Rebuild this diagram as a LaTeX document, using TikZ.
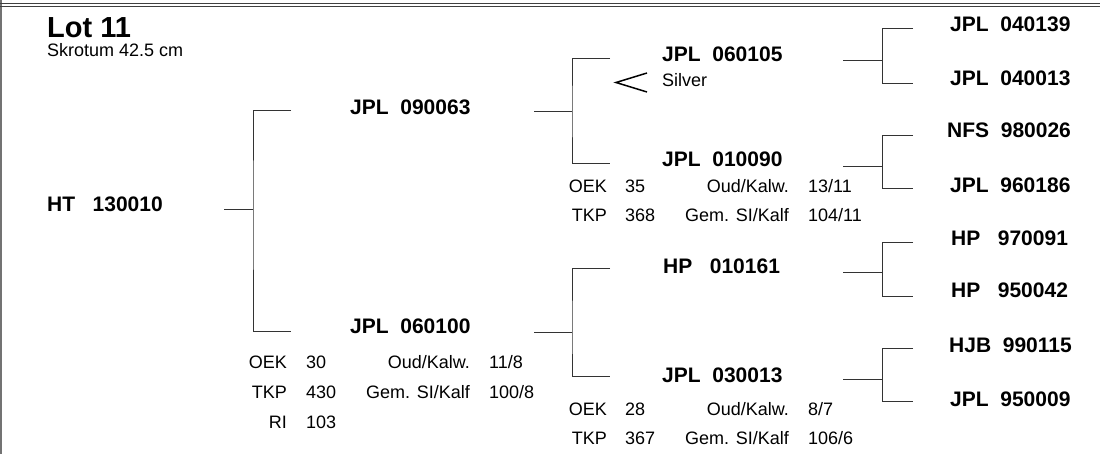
\documentclass[tikz,border=0pt]{standalone}
\usepackage{fontspec}
\setmainfont{Liberation Sans}

\begin{document}
\begin{tikzpicture}[x=1pt,y=-1pt,
        reg/.style={font=\bfseries\fontsize{21}{25}\selectfont,anchor=base west,inner sep=0pt},
        info/.style={font=\fontsize{18}{21}\selectfont,inner sep=0pt},
        key/.style={info,anchor=base east},
        val/.style={info,anchor=base west},
        link/.style={draw=black!80,line width=1pt}]

    \useasboundingbox (0,0) rectangle (1100,454);

    % frame
    \draw[black!55,line width=1.5pt] (1,0) -- (1,454);
    \draw[black!75,line width=1pt] (0,3.5) -- (1100,3.5);
    \draw[black!75,line width=1pt] (0,6.5) -- (1100,6.5);

    % title
    \node[anchor=base west,inner sep=0pt,font=\bfseries\fontsize{29}{33}\selectfont] (lot) at (47,38) {Lot 11};
    \node[val] (skrotum) at (47,57) {Skrotum 42.5 cm};

    % animal
    \node[reg] (ht) at (47,212) {HT\ \ \ 130010};

    % parents
    \node[reg] (s) at (350,115) {JPL\ \ 090063};
    \node[reg] (d) at (350,334) {JPL\ \ 060100};
    \node[key] (d-oek) at (287,368) {OEK};
    \node[val] (d-oekv) at (306,368) {30};
    \node[key] (d-tkp) at (287,398) {TKP};
    \node[val] (d-tkpv) at (306,398) {430};
    \node[key] (d-ri) at (287,428) {RI};
    \node[val] (d-riv) at (306,428) {103};
    \node[key] (d-oud) at (470,368) {Oud/Kalw.};
    \node[val] (d-oudv) at (489,368) {11/8};
    \node[key] (d-gem) at (470,398) {Gem. SI/Kalf};
    \node[val] (d-gemv) at (489,398) {100/8};

    % grandparents
    \node[reg] (ss) at (662,62) {JPL\ \ 060105};
    \node[val] (ss-note) at (662,87) {Silver};
    \draw[line width=1.5pt] (647,73) -- (616,82.5) -- (647,92);
    \node[reg] (sd) at (662,167) {JPL\ \ 010090};
    \node[key] (sd-oek) at (607,193) {OEK};
    \node[val] (sd-oekv) at (625,193) {35};
    \node[key] (sd-tkp) at (607,222) {TKP};
    \node[val] (sd-tkpv) at (625,222) {368};
    \node[key] (sd-oud) at (789,193) {Oud/Kalw.};
    \node[val] (sd-oudv) at (808,193) {13/11};
    \node[key] (sd-gem) at (789,222) {Gem. SI/Kalf};
    \node[val] (sd-gemv) at (808,222) {104/11};

    \node[reg] (ds) at (663,273) {HP\ \ \ 010161};
    \node[reg] (dd) at (662,382) {JPL\ \ 030013};
    \node[key] (dd-oek) at (607,415) {OEK};
    \node[val] (dd-oekv) at (625,415) {28};
    \node[key] (dd-tkp) at (607,444) {TKP};
    \node[val] (dd-tkpv) at (625,444) {367};
    \node[key] (dd-oud) at (789,415) {Oud/Kalw.};
    \node[val] (dd-oudv) at (808,415) {8/7};
    \node[key] (dd-gem) at (789,444) {Gem. SI/Kalf};
    \node[val] (dd-gemv) at (808,444) {106/6};

    % great-grandparents
    \node[reg] (sss) at (950,32) {JPL\ \ 040139};
    \node[reg] (ssd) at (950,86) {JPL\ \ 040013};
    \node[reg] (sds) at (947,138) {NFS\ \ 980026};
    \node[reg] (sdd) at (950,193) {JPL\ \ 960186};
    \node[reg] (dss) at (951,246) {HP\ \ \ 970091};
    \node[reg] (dsd) at (951,298) {HP\ \ \ 950042};
    \node[reg] (dds) at (949,352) {HJB\ \ 990115};
    \node[reg] (ddd) at (950,406) {JPL\ \ 950009};

    % bracket points
    \coordinate (ht-out) at (224,209.5);  \coordinate (ht-j) at (253,209.5);
    \coordinate (s-in) at (291,111);      \coordinate (d-in) at (291,331);
    \coordinate (s-out) at (534,112);     \coordinate (s-j) at (572,112);
    \coordinate (ss-in) at (610,59);      \coordinate (sd-in) at (610,164);
    \coordinate (d-out) at (534,332);     \coordinate (d-j) at (572,332);
    \coordinate (ds-in) at (610,269);     \coordinate (dd-in) at (610,376);
    \coordinate (ss-out) at (843,61);     \coordinate (ss-j) at (882,61);
    \coordinate (sss-in) at (913,29);     \coordinate (ssd-in) at (913,84);
    \coordinate (sd-out) at (843,167);    \coordinate (sd-j) at (882,167);
    \coordinate (sds-in) at (913,136);    \coordinate (sdd-in) at (913,189);
    \coordinate (ds-out) at (843,273);    \coordinate (ds-j) at (882,273);
    \coordinate (dss-in) at (913,243);    \coordinate (dsd-in) at (913,297);
    \coordinate (dd-out) at (843,379);    \coordinate (dd-j) at (882,379);
    \coordinate (dds-in) at (913,348);    \coordinate (ddd-in) at (913,401);

    % brackets
    \path[link] (ht-out) -- (ht-j);
    \path[link] (s-in) -| (ht-j) |- (d-in);
    \path[link] (s-out) -- (s-j);
    \path[link] (ss-in) -| (s-j) |- (sd-in);
    \path[link] (d-out) -- (d-j);
    \path[link] (ds-in) -| (d-j) |- (dd-in);
    \path[link] (ss-out) -- (ss-j);
    \path[link] (sss-in) -| (ss-j) |- (ssd-in);
    \path[link] (sd-out) -- (sd-j);
    \path[link] (sds-in) -| (sd-j) |- (sdd-in);
    \path[link] (ds-out) -- (ds-j);
    \path[link] (dss-in) -| (ds-j) |- (dsd-in);
    \path[link] (dd-out) -- (dd-j);
    \path[link] (dds-in) -| (dd-j) |- (ddd-in);

\end{tikzpicture}
\end{document}
